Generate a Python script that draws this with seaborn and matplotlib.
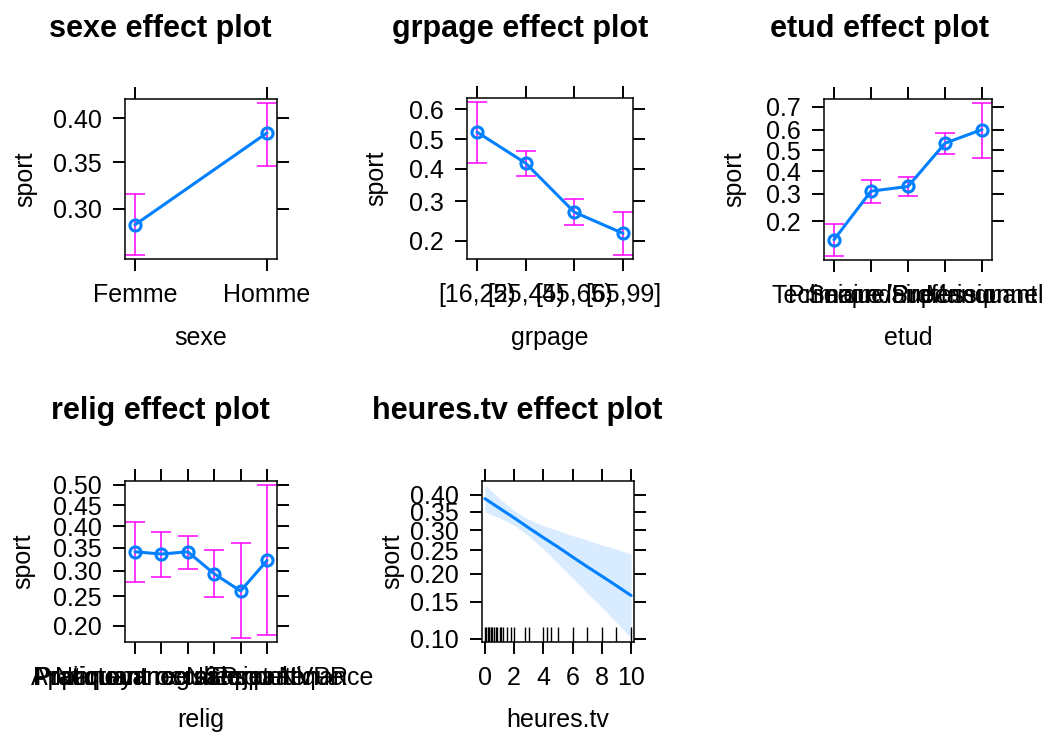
import numpy as np
import pandas as pd
import seaborn as sns
import matplotlib
matplotlib.use("Agg")
import matplotlib.pyplot as plt
from matplotlib.ticker import FixedLocator, FixedFormatter, NullLocator

# --- data (predicted probability of "sport") ---
sexe_levels = ["Femme", "Homme"]
sexe_fit = [0.284, 0.383]
sexe_lower = [0.255, 0.346]
sexe_upper = [0.316, 0.418]
sexe_yticks = [0.30, 0.35, 0.40]

grpage_levels = ["[16,25)", "[25,45)", "[45,65)", "[65,99]"]
grpage_fit = [0.524, 0.419, 0.270, 0.217]
grpage_lower = [0.419, 0.378, 0.237, 0.171]
grpage_upper = [0.624, 0.461, 0.306, 0.270]
grpage_yticks = [0.2, 0.3, 0.4, 0.5, 0.6]

etud_levels = ["Primaire", "Secondaire", "Technique/Professionnel",
               "Supérieur", "Manquant"]
etud_fit = [0.149, 0.311, 0.331, 0.535, 0.600]
etud_lower = [0.113, 0.265, 0.292, 0.484, 0.464]
etud_upper = [0.191, 0.358, 0.371, 0.584, 0.716]
etud_yticks = [0.2, 0.3, 0.4, 0.5, 0.6, 0.7]

relig_levels = ["Pratiquant regulier", "Pratiquant occasionnel",
                "Appartenance sans pratique", "Ni croyance ni appartenance",
                "Rejet", "NSP ou NVPR"]
relig_fit = [0.341, 0.336, 0.341, 0.294, 0.260, 0.322]
relig_lower = [0.277, 0.288, 0.303, 0.249, 0.181, 0.185]
relig_upper = [0.410, 0.386, 0.376, 0.344, 0.361, 0.500]
relig_yticks = [0.20, 0.25, 0.30, 0.35, 0.40, 0.45, 0.50]

tv_x = [0, 1, 2, 3, 4, 5, 6, 7, 8, 9, 10]
tv_fit = [0.388, 0.360, 0.333, 0.306, 0.281, 0.258, 0.235, 0.214, 0.195, 0.177, 0.160]
tv_lower = [0.349, 0.333, 0.313, 0.285, 0.253, 0.221, 0.191, 0.164, 0.141, 0.120, 0.101]
tv_upper = [0.429, 0.388, 0.353, 0.329, 0.312, 0.299, 0.286, 0.275, 0.263, 0.253, 0.242]
tv_rug = [0, 0.1, 0.2, 0.25, 0.3, 0.4, 0.5, 0.6, 0.75, 0.85, 1, 1.1, 1.25,
          1.5, 1.75, 2, 2.75, 3, 4, 4.25, 4.5, 5, 6, 7, 8, 9, 10]
tv_xticks = [0, 2, 4, 6, 8, 10]
tv_yticks = [0.10, 0.15, 0.20, 0.25, 0.30, 0.35, 0.40]

LINE = "#0080ff"
BAR = "#ff00ff"
W, H = 1052, 734
FS = 18

sns.set_theme(style="white", rc={"text.color": "black", "axes.labelcolor": "black",
                                 "xtick.color": "black", "ytick.color": "black",
                                 "axes.edgecolor": "black"})
plt.rcParams["font.family"] = ["Liberation Sans", "DejaVu Sans"]
plt.rcParams["axes.linewidth"] = 1.1

fig = plt.figure(figsize=(W / 100, H / 100), dpi=100)


def px_axes(x0, y0, x1, y1):
    return fig.add_axes([x0 / W, 1 - y1 / H, (x1 - x0) / W, (y1 - y0) / H])


def style_axes(ax, yticks, fmt):
    ax.set_yscale("logit")
    ax.yaxis.set_major_locator(FixedLocator(yticks))
    ax.yaxis.set_major_formatter(FixedFormatter([fmt % v for v in yticks]))
    ax.yaxis.set_minor_locator(NullLocator())
    ax.xaxis.set_minor_locator(NullLocator())
    ax.tick_params(axis="both", which="major", direction="out", length=8.6,
                   width=1.4, color="black", labelsize=FS, labelcolor="black",
                   top=True, right=True, bottom=True, left=True,
                   labeltop=False, labelright=False)
    ax.tick_params(axis="y", pad=8)
    ax.tick_params(axis="x", pad=9)
    for s in ax.spines.values():
        s.set_visible(True)
        s.set_color("black")
    ax.set_xlabel("")
    ax.set_ylabel("")


def set_ylim_logit(ax, lo, hi, frac=0.026):
    a, b = np.log(lo / (1 - lo)), np.log(hi / (1 - hi))
    p = (b - a) * frac
    ax.set_ylim(1 / (1 + np.exp(-(a - p))), 1 / (1 + np.exp(-(b + p))))


def labels(title, tx, ty, xlab, bx, by, ly, lx):
    fig.text(tx / W, 1 - ty / H, title, ha="center", va="baseline",
             fontsize=22, fontweight="bold", color="black")
    fig.text(bx / W, 1 - by / H, xlab, ha="center", va="baseline",
             fontsize=FS, color="black")
    fig.text(lx / W, 1 - ly / H, "sport", ha="center", va="center",
             rotation=90, fontsize=FS, color="black")


def factor_panel(box, levels, fit, lower, upper, yticks, fmt):
    ax = px_axes(*box)
    df = pd.DataFrame({"pos": np.arange(len(levels)), "fit": fit,
                       "lower": lower, "upper": upper})
    ax.errorbar(df["pos"], df["fit"],
                yerr=[df["fit"] - df["lower"], df["upper"] - df["fit"]],
                fmt="none", ecolor=BAR, elinewidth=1.1, capsize=7,
                capthick=1.1, zorder=2)
    sns.lineplot(data=df, x="pos", y="fit", ax=ax, color=LINE, lw=2.2,
                 marker="o", markersize=8, markerfacecolor="none",
                 markeredgecolor=LINE, markeredgewidth=2.2, zorder=3)
    style_axes(ax, yticks, fmt)
    n = len(levels)
    w = box[2] - box[0]
    f = 10 / w
    pad = (n - 1) * f / (1 - 2 * f)
    ax.set_xlim(-pad, n - 1 + pad)
    ax.set_xticks(range(n))
    ax.set_xticklabels(levels)
    set_ylim_logit(ax, min(lower), max(upper))
    return ax


# top row
b1 = (125, 99, 277, 259)
factor_panel(b1, sexe_levels, sexe_fit, sexe_lower, sexe_upper, sexe_yticks, "%.2f")
labels("sexe effect plot", 160, 37, "sexe", 201, 345, 179, 25)

b2 = (467, 98, 633, 259)
factor_panel(b2, grpage_levels, grpage_fit, grpage_lower, grpage_upper, grpage_yticks, "%.1f")
labels("grpage effect plot", 520, 37, "grpage", 550, 345, 178, 376)

b3 = (824, 99, 992, 260)
factor_panel(b3, etud_levels, etud_fit, etud_lower, etud_upper, etud_yticks, "%.1f")
labels("etud effect plot", 880, 37, "etud", 908, 345, 179, 734)

# bottom row
b4 = (125, 481, 277, 642)
factor_panel(b4, relig_levels, relig_fit, relig_lower, relig_upper, relig_yticks, "%.2f")
labels("relig effect plot", 160, 419, "relig", 201, 727, 561, 23)

b5 = (482, 481, 634, 642)
ax5 = px_axes(*b5)
tv = pd.DataFrame({"heures.tv": tv_x, "fit": tv_fit, "lower": tv_lower, "upper": tv_upper})
ax5.fill_between(tv["heures.tv"], tv["lower"], tv["upper"], color=LINE,
                 alpha=0.15, lw=0, zorder=1)
sns.lineplot(data=tv, x="heures.tv", y="fit", ax=ax5, color=LINE, lw=2.2, zorder=3)
sns.rugplot(x=tv_rug, ax=ax5, height=0.095, color="black", lw=1.5, zorder=2)
style_axes(ax5, tv_yticks, "%.2f")
ax5.set_xlim(-0.2, 10.2)
ax5.set_xticks(tv_xticks)
ax5.set_xticklabels([str(v) for v in tv_xticks])
set_ylim_logit(ax5, min(tv_lower), max(tv_upper))
labels("heures.tv effect plot", 517, 419, "heures.tv", 558, 727, 561, 392)

fig.savefig("out.png", dpi=100, facecolor="white")
